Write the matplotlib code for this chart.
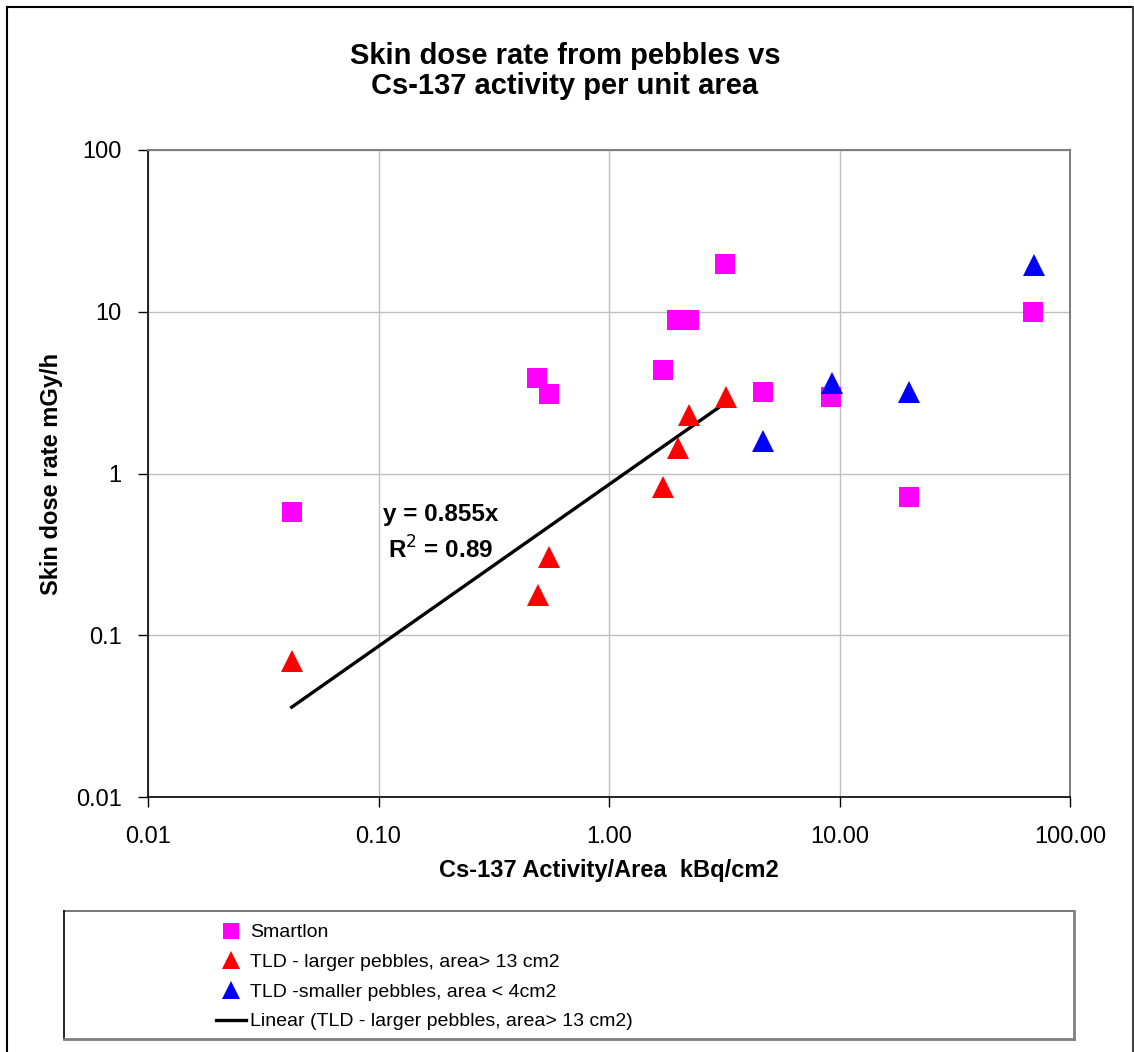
import numpy as np
import matplotlib.pyplot as plt
from matplotlib.lines import Line2D
from matplotlib.ticker import FixedLocator, NullLocator, FixedFormatter

plt.rcParams['font.family'] = ['Liberation Sans', 'DejaVu Sans']

# SmartIon readings
smart_x = [0.042, 0.485, 0.547, 1.71, 1.97, 2.22, 3.18, 4.66, 9.16, 20.0, 69.1]
smart_y = [0.58, 3.88, 3.09, 4.35, 8.9, 8.9, 19.6, 3.18, 2.98, 0.72, 10.0]

# TLD - larger pebbles
large_x = [0.042, 0.49, 0.55, 1.72, 1.99, 2.23, 3.22]
large_y = [0.069, 0.177, 0.305, 0.82, 1.43, 2.30, 2.96]

# TLD - smaller pebbles
small_x = [4.68, 9.27, 20.1, 69.7]
small_y = [1.58, 3.61, 3.2, 19.4]

slope = 0.855
r2 = 0.89

xticks = [0.01, 0.1, 1, 10, 100]
xlabels = ['0.01', '0.10', '1.00', '10.00', '100.00']
yticks = [0.01, 0.1, 1, 10, 100]
ylabels = ['0.01', '0.1', '1', '10', '100']

W, H = 1134, 1052
fig = plt.figure(figsize=(W / 100, H / 100), dpi=100)
ax = fig.add_axes([148 / W, 1 - 797 / H, (1070 - 148) / W, (797 - 150) / H])

ax.set_xscale('log')
ax.set_yscale('log')
ax.set_xlim(0.01, 100)
ax.set_ylim(0.01, 100)

ax.grid(True, color='#c0c0c0', linewidth=1.0)
ax.set_axisbelow(True)

# linear trendline through the origin, drawn over the range of the larger-pebble data
fit_x = np.sort(np.array(large_x))
fit_y = slope * fit_x
ax.plot(fit_x, fit_y, color='black', linewidth=2.4, zorder=3)

ax.plot(smart_x, smart_y, 's', color='#ff00ff', markersize=14.5, markeredgewidth=0, zorder=4)
ax.plot(large_x, large_y, '^', color='#ff0000', markersize=16, markeredgewidth=0, zorder=4)
ax.plot(small_x, small_y, '^', color='#0000ff', markersize=16, markeredgewidth=0, zorder=4)

ax.xaxis.set_major_locator(FixedLocator(xticks))
ax.xaxis.set_major_formatter(FixedFormatter(xlabels))
ax.xaxis.set_minor_locator(NullLocator())
ax.yaxis.set_major_locator(FixedLocator(yticks))
ax.yaxis.set_major_formatter(FixedFormatter(ylabels))
ax.yaxis.set_minor_locator(NullLocator())
ax.tick_params(axis='both', direction='out', length=7, width=1, labelsize=17, colors='black')
ax.tick_params(axis='x', pad=14)
ax.tick_params(axis='y', pad=12)

for side in ['left', 'bottom']:
    ax.spines[side].set_color('black')
    ax.spines[side].set_linewidth(1.2)
for side in ['top', 'right']:
    ax.spines[side].set_color('#808080')
    ax.spines[side].set_linewidth(1.5)

ax.set_xlabel('Cs-137 Activity/Area  kBq/cm2', fontsize=17, fontweight='bold')
ax.set_ylabel('Skin dose rate mGy/h', fontsize=17, fontweight='bold')
ax.xaxis.set_label_coords(0.5, (797 - 859) / 647)
ax.yaxis.set_label_coords((63 - 148) / 922, 0.5)

ax.text(0.317, 0.437, 'y = 0.855x', transform=ax.transAxes, ha='center', va='center',
        fontsize=17.5, fontweight='bold')
ax.text(0.317, 0.382, 'R$^{2}$ = %.2f' % r2, transform=ax.transAxes, ha='center', va='center',
        fontsize=17.5, fontweight='bold')

fig.text(565 / W, 1 - 56 / H, 'Skin dose rate from pebbles vs',
         ha='center', va='center', fontsize=21, fontweight='bold')
fig.text(565 / W, 1 - 86 / H, 'Cs-137 activity per unit area',
         ha='center', va='center', fontsize=21, fontweight='bold')


def fline(x0, y0, x1, y1, **kw):
    fig.add_artist(Line2D([x0 / W, x1 / W], [1 - y0 / H, 1 - y1 / H], **kw))


# outer chart border
fline(7, 7, 1133, 7, color='black', linewidth=1.5)
fline(7, 7, 7, 1060, color='black', linewidth=1.5)
fline(1132.5, 7, 1132.5, 1060, color='#404040', linewidth=1.5)

# legend box
fline(64, 911, 1074, 911, color='#606060', linewidth=1.2)
fline(64, 911, 64, 1039, color='black', linewidth=1.2)
fline(1074, 911, 1074, 1039, color='#808080', linewidth=2)
fline(64, 1039, 1074, 1039, color='#808080', linewidth=2)

handles = [
    Line2D([], [], marker='s', color='#ff00ff', linestyle='none', markersize=11, markeredgewidth=0),
    Line2D([], [], marker='^', color='#ff0000', linestyle='none', markersize=13, markeredgewidth=0),
    Line2D([], [], marker='^', color='#0000ff', linestyle='none', markersize=13, markeredgewidth=0),
    Line2D([], [], color='black', linewidth=2.4),
]
labels = ['Smartlon', 'TLD - larger pebbles, area> 13 cm2',
          'TLD -smaller pebbles, area < 4cm2', 'Linear (TLD - larger pebbles, area> 13 cm2)']
fig.legend(handles, labels, loc='upper left', bbox_to_anchor=(206 / W, 1 - 914 / H),
           frameon=False, handlelength=1.55, handletextpad=0.2,
           labelspacing=0.62, borderpad=0, fontsize=14)

fig.savefig('out.png', dpi=100)
